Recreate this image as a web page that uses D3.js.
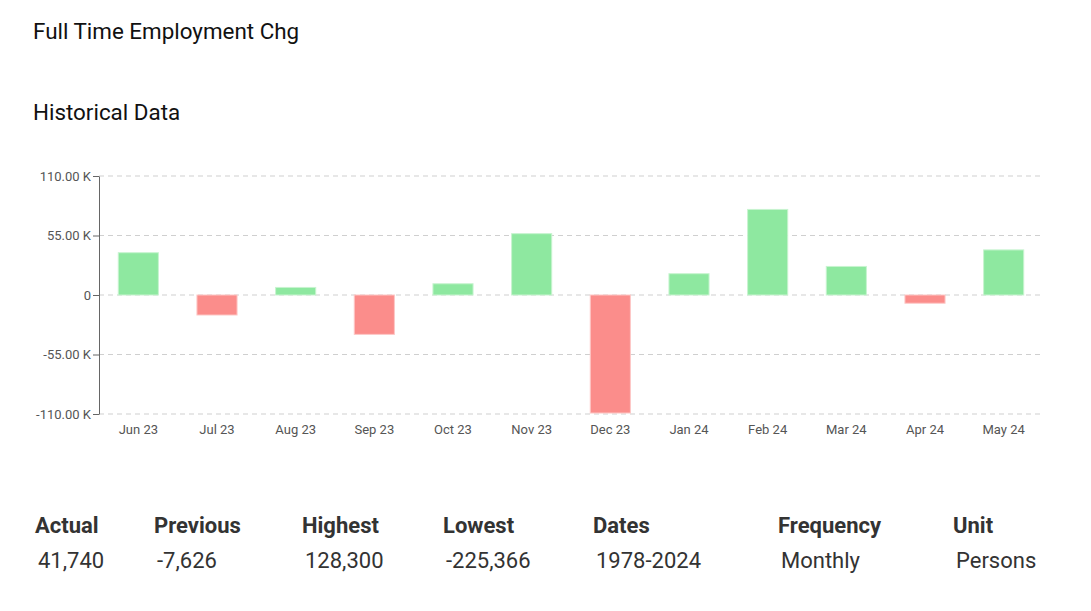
<!DOCTYPE html>
<html>
<head>
<meta charset="utf-8">
<script src="https://cdn.jsdelivr.net/npm/d3@7"></script>
<style>
  body { margin: 0; background: #fff; font-family: Roboto, sans-serif; }
</style>
</head>
<body>
<div id="chart"></div>
<script>
// data (thousands of persons)
const months = ["Jun 23", "Jul 23", "Aug 23", "Sep 23", "Oct 23", "Nov 23",
                "Dec 23", "Jan 24", "Feb 24", "Mar 24", "Apr 24", "May 24"];
const changes = [39.1, -18.5, 7.0, -36.4, 10.4, 56.7, -109.1, 19.7, 79.1, 26.4, -7.6, 41.7];
const yTicks = [-110, -55, 0, 55, 110];
const statLabels = ["Actual", "Previous", "Highest", "Lowest", "Dates", "Frequency", "Unit"];
const statValues = ["41,740", "-7,626", "128,300", "-225,366", "1978-2024", "Monthly", "Persons"];

const w = 1091, h = 611;
const svg = d3.select("div#chart")
  .append("svg")
  .attr("width", w)
  .attr("height", h);

// titles
svg.append("text")
  .attr("x", 33).attr("y", 39)
  .attr("font-size", 22.4).attr("fill", "#111")
  .text("Full Time Employment Chg");
svg.append("text")
  .attr("x", 33).attr("y", 120)
  .attr("font-size", 22.4).attr("fill", "#111")
  .text("Historical Data");

const plotL = 99, plotR = 1043, plotT = 176, plotB = 414;

const x = d3.scaleBand()
  .domain(months)
  .range([plotL, plotR])
  .paddingInner(0.49)
  .paddingOuter(0.245);

const y = d3.scaleLinear()
  .domain([-110, 110])
  .range([plotB, plotT]);

// gridlines
svg.append("g")
  .selectAll("line")
  .data(yTicks)
  .enter()
  .append("line")
  .attr("x1", plotL).attr("x2", plotR)
  .attr("y1", d => y(d)).attr("y2", d => y(d))
  .attr("stroke", "#cfcfcf")
  .attr("stroke-dasharray", "5,4");

// bars
svg.append("g")
  .selectAll("rect")
  .data(changes)
  .enter()
  .append("rect")
  .attr("x", (d, i) => x(months[i]))
  .attr("width", x.bandwidth())
  .attr("y", d => y(Math.max(0, d)))
  .attr("height", d => Math.abs(y(d) - y(0)))
  .attr("fill", d => d >= 0 ? "#8ee8a0" : "#fb8d8b")
  .attr("stroke", d => d >= 0 ? "#c8f4d0" : "#fdc8c6")
  .attr("stroke-width", 1);

// y axis (plain hyphen for negatives, like the source)
const fmt = d => d === 0 ? "0" : d3.format(".2f")(d).replace("\u2212", "-") + " K";
const yAxis = svg.append("g")
  .attr("transform", "translate(" + plotL + ",0)")
  .call(d3.axisLeft(y).tickValues(yTicks).tickFormat(fmt).tickSize(6).tickSizeOuter(0));
yAxis.select(".domain").attr("stroke", "#666");
yAxis.selectAll(".tick line").attr("stroke", "#666");
yAxis.selectAll("text")
  .attr("fill", "#555")
  .attr("font-size", 13)
  .attr("font-family", "Roboto, sans-serif")
  .attr("x", -8);

// x axis
const xAxis = svg.append("g")
  .attr("transform", "translate(0," + plotB + ")")
  .call(d3.axisBottom(x).tickSize(0));
xAxis.select(".domain").remove();
xAxis.selectAll("text")
  .attr("fill", "#555")
  .attr("font-size", 13)
  .attr("font-family", "Roboto, sans-serif")
  .attr("dy", "1.3em");

// stats row
const statX = [35, 154, 302, 443, 593, 778, 953];
const stats = svg.append("g");
stats.selectAll("text.lab")
  .data(statLabels)
  .enter()
  .append("text")
  .attr("class", "lab")
  .attr("x", (d, i) => statX[i])
  .attr("y", 533)
  .attr("font-size", 22)
  .attr("font-weight", "bold")
  .attr("fill", "#333")
  .text(d => d);
stats.selectAll("text.val")
  .data(statValues)
  .enter()
  .append("text")
  .attr("class", "val")
  .attr("x", (d, i) => statX[i] + 3)
  .attr("y", 568)
  .attr("font-size", 22)
  .attr("fill", "#333")
  .text(d => d);
</script>
</body>
</html>
